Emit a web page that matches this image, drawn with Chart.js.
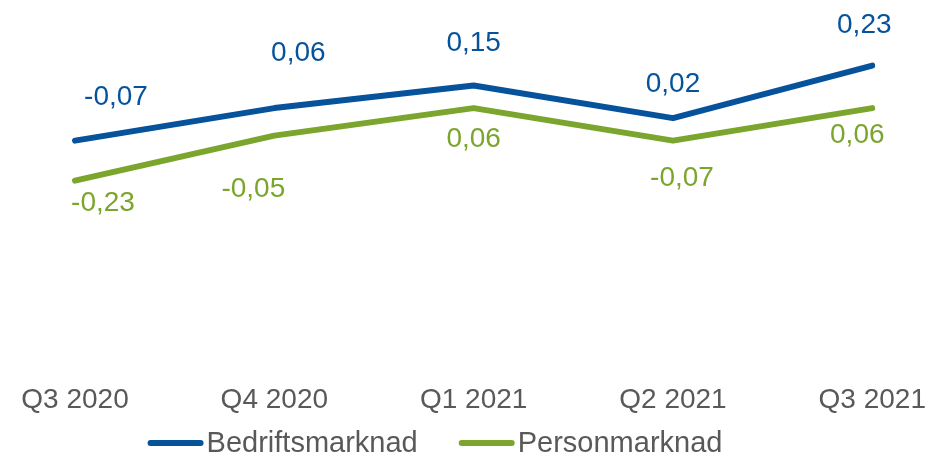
<!DOCTYPE html>
<html>
<head>
<meta charset="utf-8">
<script src="https://cdn.jsdelivr.net/npm/chart.js@4/dist/chart.umd.min.js"></script>
<style>
  html, body { margin: 0; padding: 0; background: #fff; }
  #wrap { width: 928px; height: 456px; }
</style>
</head>
<body>
<div id="wrap"><canvas id="chart" width="928" height="456"></canvas></div>
<script>
const quarters = ['Q3 2020', 'Q4 2020', 'Q1 2021', 'Q2 2021', 'Q3 2021'];
const bedrift = [-0.07, 0.06, 0.15, 0.02, 0.23];
const person = [-0.23, -0.05, 0.06, -0.07, 0.06];

const BLUE = '#06529B';
const GREEN = '#7BA52D';
const GREY = '#595959';
const FONT = "'Liberation Sans', Arial, sans-serif";

// nudges for value labels (relative to the point), like the hand-placed ones in the original
const labelNudge = {
  0: { dx: [41, 24, 0, 0, -8], dy: [-43, -55, -42, -34, -40] },
  1: { dx: [28, -21, 0, 9, -15], dy: [23, 54, 31, 38, 27] }
};

const valueLabels = {
  id: 'valueLabels',
  afterDatasetsDraw(chart) {
    const ctx = chart.ctx;
    ctx.save();
    ctx.font = '28px ' + FONT;
    ctx.textAlign = 'center';
    ctx.textBaseline = 'middle';
    chart.data.datasets.forEach((ds, i) => {
      const meta = chart.getDatasetMeta(i);
      ctx.fillStyle = ds.borderColor;
      meta.data.forEach((pt, j) => {
        const txt = ds.data[j].toFixed(2).replace('.', ',');
        ctx.fillText(txt, pt.x + labelNudge[i].dx[j], pt.y + labelNudge[i].dy[j]);
      });
    });
    ctx.restore();
  }
};

const bottomLegend = {
  id: 'bottomLegend',
  afterDraw(chart) {
    const ctx = chart.ctx;
    ctx.save();
    ctx.font = '29px ' + FONT;
    ctx.textBaseline = 'middle';
    ctx.textAlign = 'left';
    const lineLen = 56, gapText = 3, gapItem = 41;
    const items = chart.data.datasets.map(ds => ({
      label: ds.label, color: ds.borderColor, w: lineLen + gapText + ctx.measureText(ds.label).width
    }));
    const total = items.reduce((s, it) => s + it.w, 0) + gapItem * (items.length - 1);
    let x = 435 - total / 2;
    const y = 443;
    items.forEach(it => {
      ctx.strokeStyle = it.color;
      ctx.lineWidth = 6;
      ctx.lineCap = 'round';
      ctx.beginPath();
      ctx.moveTo(x + 3, y);
      ctx.lineTo(x + lineLen - 3, y);
      ctx.stroke();
      ctx.fillStyle = GREY;
      ctx.fillText(it.label, x + lineLen + gapText, y + 1);
      x += it.w + gapItem;
    });
    ctx.restore();
  }
};

new Chart(document.getElementById('chart').getContext('2d'), {
  type: 'line',
  data: {
    labels: quarters,
    datasets: [
      {
        label: 'Bedriftsmarknad',
        data: bedrift,
        borderColor: BLUE,
        backgroundColor: BLUE,
        borderWidth: 6,
        pointRadius: 0,
        borderCapStyle: 'round',
        borderJoinStyle: 'round',
        tension: 0
      },
      {
        label: 'Personmarknad',
        data: person,
        borderColor: GREEN,
        backgroundColor: GREEN,
        borderWidth: 6,
        pointRadius: 0,
        borderCapStyle: 'round',
        borderJoinStyle: 'round',
        tension: 0
      }
    ]
  },
  options: {
    responsive: false,
    animation: false,
    layout: { padding: { left: 75, right: 46, top: 23, bottom: 37 } },
    plugins: {
      legend: { display: false },
      tooltip: { enabled: false }
    },
    scales: {
      x: {
        offset: false,
        grid: { display: false },
        border: { display: false },
        ticks: {
          color: GREY,
          padding: 2,
          maxRotation: 0,
          autoSkip: false,
          font: { family: FONT, size: 28 }
        }
      },
      y: {
        display: false,
        min: -1.0,
        max: 0.4
      }
    }
  },
  plugins: [valueLabels, bottomLegend]
});
</script>
</body>
</html>
